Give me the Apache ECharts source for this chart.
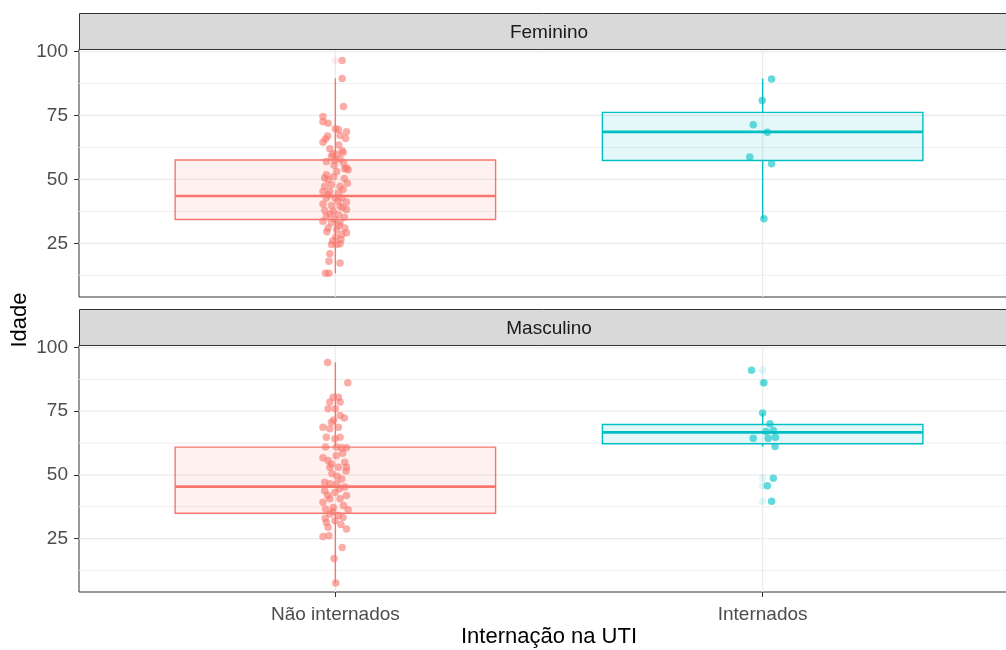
<!DOCTYPE html>
<html><head><meta charset="utf-8">
<script src="https://cdn.jsdelivr.net/npm/echarts@6/dist/echarts.min.js"></script>
<style>html,body{margin:0;padding:0;background:#fff}#c{width:1006px;height:650px}</style>
</head><body><div id="c"></div>
<script>
const categories = ['Não internados', 'Internados'];
const panels = ['Feminino', 'Masculino'];
const yTicks = [25, 50, 75, 100];
const yMinor = [12.5, 37.5, 62.5, 87.5];
const xTicks = [1, 2];
// box stats: [category index, lower whisker, q1, median, q3, upper whisker]
const boxFeminino = [[0, 13.3, 34.3, 43.5, 57.6, 89.5], [1, 34.6, 57.4, 68.6, 76.2, 89.4]];
const boxMasculino = [[0, 7.5, 34.9, 45.4, 60.9, 94.2], [1, 61.1, 62.2, 66.7, 69.8, 74.3]];
// boxplot outliers: [category index, age]
const outFeminino = [[0, 96.5]];
const outMasculino = [[1, 91.1], [1, 86.2], [1, 48.7], [1, 45.7], [1, 39.6]];
// jittered observations: [horizontal jitter (category units), age]
const femNao = [[0.016,96.5],[0.016,89.5],[0.019,78.5],[-0.029,74.6],[-0.029,72.5],[-0.017,72],[0,69.8],[0.007,69.5],[0.026,68.6],[-0.018,67],[-0.023,65.8],[-0.029,64.5],[0.011,67.2],[0.024,66],[0.016,61.2],[0.018,60.5],[-0.006,60],[-0.009,59],[0.003,59.8],[-0.021,57],[0.011,58],[0.026,54.5],[-0.003,55.5],[-0.021,51.8],[0.003,53.1],[0.022,54.2],[0.030,53.8],[-0.017,49.9],[0.021,50.3],[-0.025,47.3],[-0.009,47.9],[0.011,47.3],[-0.029,45.3],[-0.013,45.3],[0.007,44.7],[-0.021,42.7],[-0.001,42.7],[0.015,42.7],[-0.029,40.4],[0.026,41.2],[-0.009,39.8],[0.011,39.5],[-0.025,37.8],[0.026,38.2],[-0.005,37.5],[-0.021,35.5],[0.007,36.2],[0.021,35.2],[-0.029,33.6],[-0.009,33],[0.011,33],[-0.017,31],[0.003,30.4],[0.022,31],[0.015,28.4],[0.026,29.1],[-0.009,24.5],[0.003,24.5],[0.011,24.8],[-0.013,20.9],[-0.015,18],[0.011,17.3],[-0.023,13.3],[-0.015,13.3],[-0.004,51],[0.018,46],[-0.017,44],[0.006,41.5],[-0.012,36.5],[0.017,39],[-0.002,34.5],[0.008,32],[-0.020,29.5],[0.001,27.5],[-0.006,26],[0.013,26.5],[-0.025,50.5],[0.028,48.5],[-0.001,57.5],[0.019,56.5],[-0.013,62],[0.008,63.5]];
const femInt = [[0.021,89.3],[-0.001,80.9],[-0.022,71.4],[0.011,68.4],[-0.030,58.8],[0.021,56.1],[0.003,34.6]];
const masNao = [[-0.018,94.1],[0.029,86.2],[-0.005,80.5],[0.007,80.5],[-0.013,78.6],[0.011,78.6],[-0.017,76],[0,76],[0.011,73.3],[0.021,72.3],[-0.009,70.7],[-0.029,68.7],[-0.013,68.1],[0.007,68.7],[-0.021,64.8],[-0.001,64.2],[0.011,64.8],[-0.023,60.9],[0.003,60.9],[0.015,60.6],[0.026,60.6],[-0.029,56.7],[-0.017,55.6],[-0.009,54.3],[0.022,55],[0.007,53],[-0.013,53],[0.026,53],[0.025,51.5],[0.015,48.4],[-0.025,47.1],[-0.013,46.5],[0.003,46.5],[0.022,45.2],[-0.025,43.8],[-0.001,43.1],[0.026,41.9],[0.011,40.6],[-0.013,40.6],[-0.029,39.2],[-0.023,36.6],[-0.005,37.2],[0.030,36.3],[-0.013,34.6],[0.007,34],[0.018,33.3],[-0.021,31.3],[-0.001,32],[-0.017,29.4],[0.026,28.7],[-0.029,25.8],[-0.015,26.1],[0.016,21.5],[-0.003,17.2],[0.001,7.5],[0.004,49.5],[-0.008,50.5],[0.019,38],[-0.018,42],[0.009,44.5],[-0.006,35.5],[0.013,30.5],[-0.024,33],[0.002,57.5],[0.017,58.5],[-0.004,71.5]];
const masInt = [[-0.026,91.1],[0.003,86.2],[0,74.3],[0.017,70.1],[0.008,67],[0.025,67.4],[-0.022,64.4],[0.013,64.4],[0.030,64.8],[0.029,61.1],[0.025,48.7],[0.011,45.7],[0.021,39.6]];

const RED = '#F8766D', CYAN = '#00BFC4';
const RED_FILL = 'rgba(248,118,109,0.1)', CYAN_FILL = 'rgba(0,191,196,0.1)';
const catColor = [RED, CYAN], catFill = [RED_FILL, CYAN_FILL];
const FONT = 'Liberation Sans, Arial, sans-serif';

function gridRender(params, api) {
  const cs = params.coordSys;
  const kids = [];
  yMinor.forEach(v => { const y = api.coord([1, v])[1];
    kids.push({type:'line', shape:{x1:cs.x, y1:y, x2:cs.x+cs.width, y2:y}, style:{stroke:'#EFEFEF', lineWidth:1}}); });
  yTicks.forEach(v => { const y = api.coord([1, v])[1];
    kids.push({type:'line', shape:{x1:cs.x, y1:y, x2:cs.x+cs.width, y2:y}, style:{stroke:'#EBEBEB', lineWidth:1.2}}); });
  xTicks.forEach(v => { const x = api.coord([v, 50])[0];
    kids.push({type:'line', shape:{x1:x, y1:cs.y, x2:x, y2:cs.y+cs.height}, style:{stroke:'#EBEBEB', lineWidth:1.2}}); });
  return {type:'group', children:kids};
}
function boxRender(params, api) {
  const c = api.value(0);
  const x = c + 1;
  const lo = api.coord([x, api.value(1)]), q1 = api.coord([x, api.value(2)]), md = api.coord([x, api.value(3)]),
        q3 = api.coord([x, api.value(4)]), hi = api.coord([x, api.value(5)]);
  const hw = api.size([0.75, 0])[0] / 2, cx = lo[0];
  const col = catColor[c];
  return {type:'group', children:[
    {type:'line', shape:{x1:cx, y1:hi[1], x2:cx, y2:q3[1]}, style:{stroke:col, lineWidth:1.4}},
    {type:'line', shape:{x1:cx, y1:q1[1], x2:cx, y2:lo[1]}, style:{stroke:col, lineWidth:1.4}},
    {type:'rect', shape:{x:cx-hw, y:q3[1], width:2*hw, height:q1[1]-q3[1]}, style:{fill:catFill[c], stroke:col, lineWidth:1.4}},
    {type:'line', shape:{x1:cx-hw, y1:md[1], x2:cx+hw, y2:md[1]}, style:{stroke:col, lineWidth:2.7}}
  ]};
}
const toXY = (arr, c) => arr.map(p => [c + 1 + p[0], p[1]]);
const outXY = arr => arr.map(p => ({value:[p[0] + 1, p[1]], itemStyle:{color:catColor[p[0]]}}));

const gridTops = [49, 345], gridH = [248, 247];
const boxes = [boxFeminino, boxMasculino], outs = [outFeminino, outMasculino];
const pts = [[femNao, femInt], [masNao, masInt]];

const grid = [], xAxis = [], yAxis = [], series = [], graphic = [];
[0, 1].forEach(i => {
  grid.push({left:79, width:940, top:gridTops[i], height:gridH[i], show:true, borderColor:'#333333', borderWidth:1,
    backgroundColor:'transparent', containLabel:false, outerBoundsMode:'none'});
  xAxis.push({type:'value', gridIndex:i, min:0.4, max:2.6, splitLine:{show:false}, axisLine:{show:false},
    axisTick:{show:i===1, customValues:xTicks, length:5, lineStyle:{color:'#333333'}},
    axisLabel:{show:i===1, customValues:xTicks, margin:13, color:'#4D4D4D', fontSize:19, fontFamily:FONT,
      formatter: v => categories[Math.round(v) - 1] || ''},
    name: i===1 ? 'Internação na UTI' : '', nameLocation:'middle', nameGap:34,
    nameTextStyle:{color:'#000', fontSize:22, fontFamily:FONT}});
  yAxis.push({type:'value', gridIndex:i, min:4, max:101, splitLine:{show:false}, axisLine:{show:false},
    axisTick:{show:true, customValues:yTicks, length:5, lineStyle:{color:'#333333'}},
    axisLabel:{customValues:yTicks, margin:11, color:'#4D4D4D', fontSize:19, fontFamily:FONT}});
  series.push({type:'custom', xAxisIndex:i, yAxisIndex:i, data:[[0]], renderItem:gridRender, silent:true, z:1});
  series.push({type:'custom', xAxisIndex:i, yAxisIndex:i, data:boxes[i], renderItem:boxRender, silent:true, z:2,
    encode:{x:[], y:[1,2,3,4,5]}});
  series.push({type:'scatter', xAxisIndex:i, yAxisIndex:i, data:outXY(outs[i]), symbolSize:7.5, itemStyle:{opacity:0.13}, z:3, silent:true});
  [0, 1].forEach(c => series.push({type:'scatter', xAxisIndex:i, yAxisIndex:i, data:toXY(pts[i][c], c), symbolSize:7.5,
    itemStyle:{color:catColor[c], opacity:0.6}, z:4, silent:true}));
  const sTop = gridTops[i] - 36;
  graphic.push({type:'rect', left:79, top:sTop, shape:{width:940, height:36}, style:{fill:'#D9D9D9', stroke:'#333333', lineWidth:1}, z:10});
  graphic.push({type:'text', x:549, y:sTop + 19.5, style:{text:panels[i], fill:'#1A1A1A', font:'19px ' + FONT, textAlign:'center', textVerticalAlign:'middle'}, z:11});
});
graphic.push({type:'text', x:20, y:320, rotation:Math.PI/2, style:{text:'Idade', fill:'#000', font:'22px ' + FONT, textAlign:'center', textVerticalAlign:'middle'}, z:11});

const chart = echarts.init(document.getElementById('c'), null, {renderer:'canvas'});
chart.setOption({animation:false, backgroundColor:'#fff', grid, xAxis, yAxis, series, graphic});
</script></body></html>
